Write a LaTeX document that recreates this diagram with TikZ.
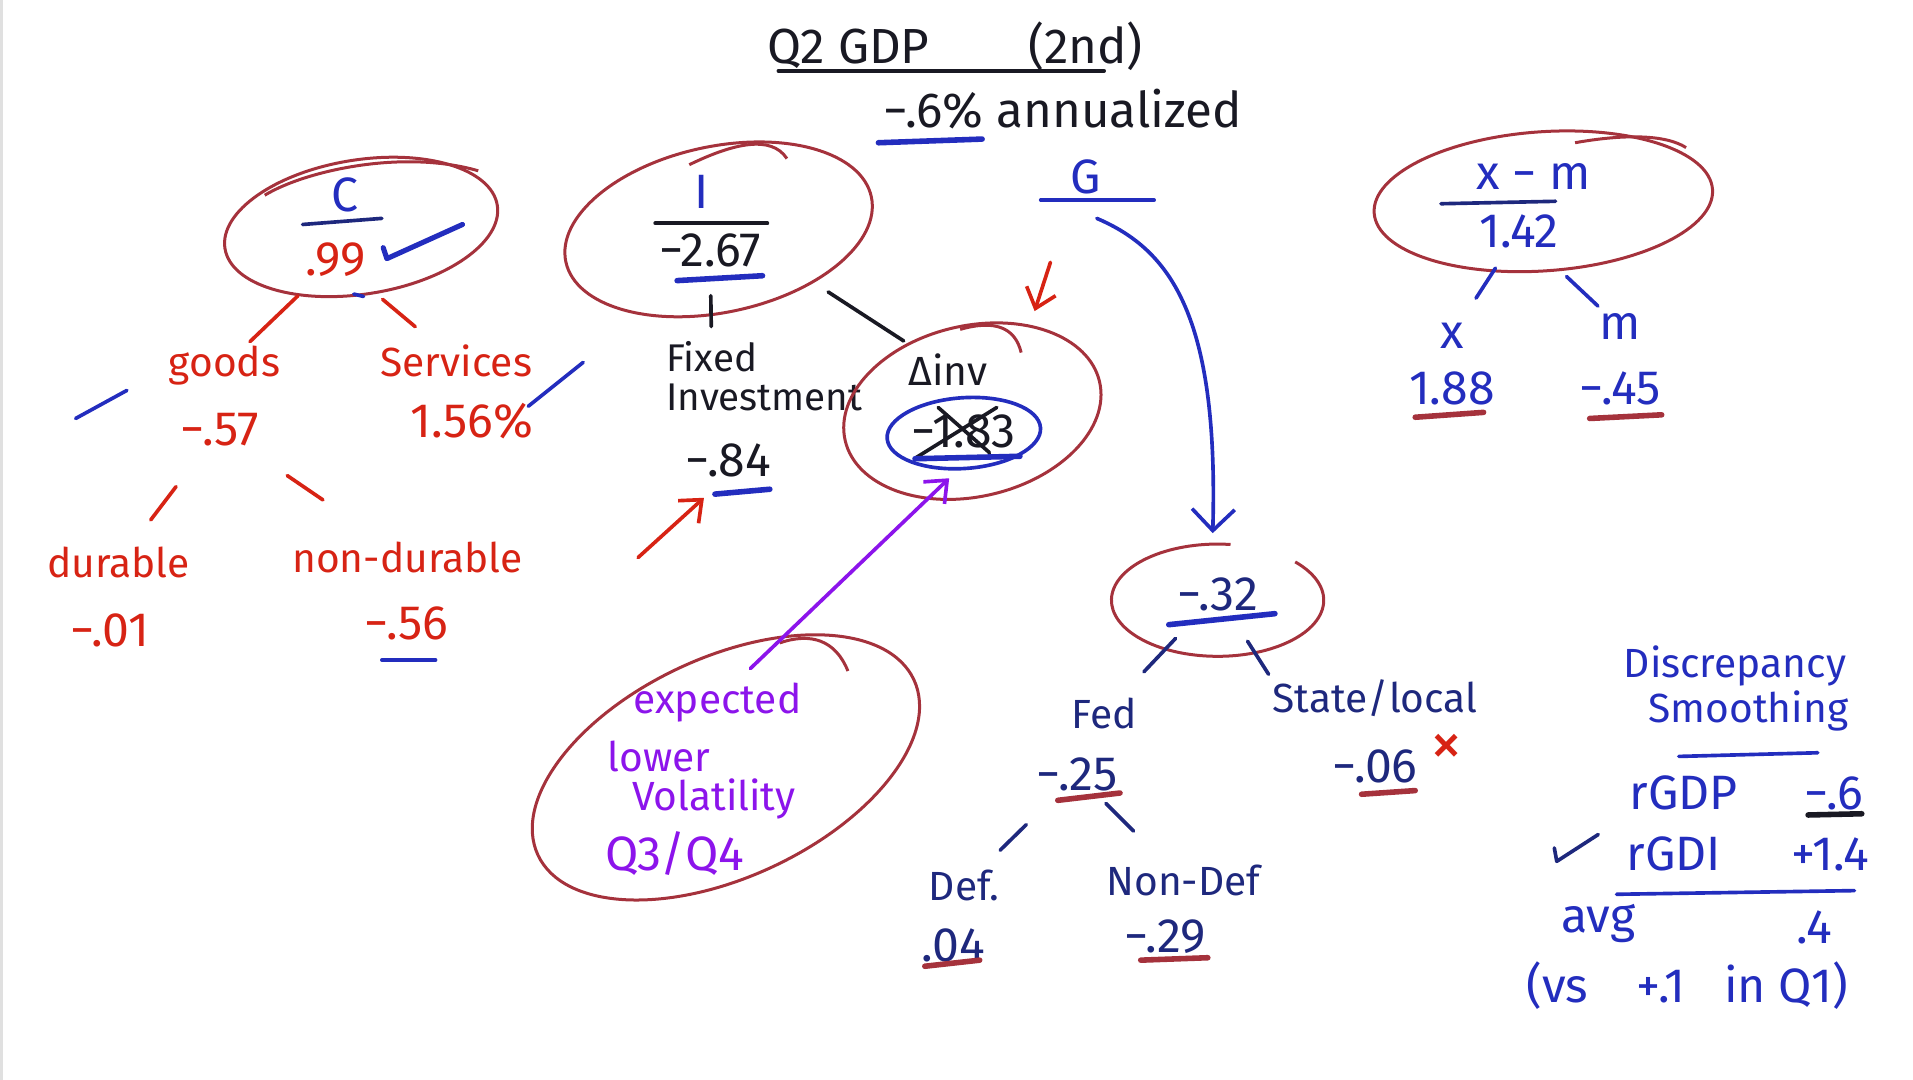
\documentclass[tikz,border=0pt]{standalone}
\usepackage{fontspec}
\setmainfont{Fira Sans}
\usetikzlibrary{arrows.meta,calc}
\definecolor{penred}{RGB}{215,35,20}
\definecolor{ringred}{RGB}{165,50,60}
\definecolor{penblue}{RGB}{35,45,190}
\definecolor{navy}{RGB}{30,40,125}
\definecolor{penink}{RGB}{25,25,35}
\definecolor{penpurple}{RGB}{140,20,235}
\newcommand{\handfont}{\fontsize{19}{21}\selectfont}
\newcommand{\numfont}{\fontsize{22.5}{25}\selectfont}
\newcommand{\titlefont}{\fontsize{23}{26}\selectfont}
\tikzset{
  txt/.style     = {font=\handfont, inner sep=1pt, text=penink},
  num/.style     = {txt, font=\numfont},
  redtxt/.style  = {txt, text=penred},
  bluetxt/.style = {txt, text=penblue},
  navytxt/.style = {txt, text=navy},
  purptxt/.style = {txt, text=penpurple},
  ring/.style    = {draw=ringred, line width=1.4pt},
  pen/.style     = {line width=1.7pt, line cap=round, line join=round},
  redpen/.style  = {pen, draw=penred},
  bluepen/.style = {pen, draw=penblue},
  navypen/.style = {pen, draw=navy},
  inkpen/.style  = {pen, draw=penink},
  purppen/.style = {pen, draw=penpurple},
  uline/.style   = {line width=2.6pt, line cap=round},
  tip/.style     = {-{Straight Barb[length=3mm,width=5mm]}},
}

\begin{document}
\begin{tikzpicture}[x=0.02cm, y=-0.02cm]
\useasboundingbox (0,0) rectangle (1568,885);
\draw[black!12, line width=2pt] (1,0) -- (1,885);

% heading
\node[txt, font=\titlefont] (title) at (783,38) {Q2 GDP\hspace{2em}(2nd)};
\draw[inkpen] (638,58) -- (905,58);
\node[txt, font=\titlefont] (gdp) at (871,89) {−.6\% annualized};
\draw[uline, draw=penblue] (720,117) -- (805,114);

% consumption
\node[bluetxt, font=\numfont] (c) at (283,160) {C};
\draw[navypen] (248,184) -- (313,179);
\node[num, text=penred] (n99) at (275,213) {.99};
\draw[ring, rotate around={9:(296,186)}] (296,186) ellipse [x radius=113, y radius=55];
\draw[ring] (217,160) .. controls (250,140) and (330,122) .. (392,140);
\draw[bluepen, line width=2.4pt] ($(n99.east)+(12,-10)$) -- ++(3,9) -- ++(62,-28);
\draw[bluepen] (290,241) -- (298,243);
\node[redtxt] (goods) at (184,300) {goods};
\node[num, text=penred] (n57) at (180,352) {−.57};
\node[redtxt] (services) at (374,296) {Services};
\node[num, text=penred] (n156) at (387,345) {1.56\%};
\node[redtxt] (durable) at (97,461) {durable};
\node[num, text=penred] (n01) at (90,517) {−.01};
\node[redtxt] (nondur) at (334,457) {non-durable};
\node[num, text=penred] (n56) at (333,511) {−.56};
\draw[bluepen] (313,541) -- (357,541);
\draw[redpen] ($(n99)!.34!(goods)$) -- ($(n99)!.77!(goods)$);
\draw[redpen] ($(n99)!.39!(services)$) -- ($(n99)!.66!(services)$);
\draw[redpen] ($(n57)!.43!(durable)$) -- ($(n57)!.68!(durable)$);
\draw[redpen] ($(n57)!.36!(nondur)$) -- ($(n57)!.55!(nondur)$);
\draw[bluepen] (62,343) -- (104,320);
\draw[bluepen] (433,333) -- (478,297);

% investment
\node[bluetxt, font=\numfont] (inv) at (575,157) {I};
\draw[inkpen] (537,183) -- (629,183);
\node[num] (n267) at (582,205) {−2.67};
\draw[uline, draw=penblue] (555,230) -- (625,226);
\draw[ring, rotate around={12:(589,188)}] (589,188) ellipse [x radius=128, y radius=68];
\draw[ring] (565,135) .. controls (600,118) and (632,110) .. (645,130);
\node[txt, anchor=west, font=\fontsize{18}{20}\selectfont] (fixed) at (544,292) {Fixed};
\node[txt, anchor=west, font=\fontsize{18}{20}\selectfont] (invest) at (544,326) {Investment};
\node[num] (n84) at (597,377) {−.84};
\draw[uline, draw=penblue] (586,405) -- (631,401);
\draw[inkpen] ($(n267)!.43!(fixed)$) -- ($(n267)!.72!(fixed)$);
\draw[redpen, tip] ([shift={(-74,80)}]n84.center) -- ([shift={(-20,31)}]n84.center);

% inventories
\node[txt] (dinv) at (777,303) {Δinv};
\node[num] (d183) at (790,354) {−1.83};
\draw[bluepen, rotate around={4:(790,355)}] (790,355) ellipse [x radius=63, y radius=29];
\draw[inkpen] (769,334) -- (811,371);
\draw[inkpen] (817,334) -- (751,375);
\draw[uline, draw=penblue] (750,376) -- (836,374);
\draw[ring, rotate around={13:(797,337)}] (797,337) ellipse [x radius=107, y radius=70];
\draw[ring] (787,270) .. controls (815,262) and (832,268) .. (837,289);
\draw[inkpen] ($(n267.east)!.35!(dinv)$) -- ($(n267.east)!.76!(dinv)$);
\draw[redpen, tip] ([shift={(84,-88)}]dinv.center) -- ++(-13,40);

% outlook
\node[purptxt] (expd) at (588,576) {expected};
\node[purptxt] (lower) at (540,620) {lower};
\node[purptxt] (volat) at (585,655) {Volatility};
\node[purptxt, font=\numfont] (q34) at (553,700) {Q3/Q4};
\draw[ring, rotate around={25:(595,629)}] (595,629) ellipse [x radius=170, y radius=90];
\draw[ring] (639,527) .. controls (665,518) and (685,525) .. (695,550);
\draw[purppen, tip] ([shift={(27,-28)}]expd.center) -- ([shift={(-12,38)}]d183.center);

% government
\node[bluetxt, font=\numfont] (gnode) at (890,145) {G};
\draw[bluepen] (853,164) -- (946,164);
\node[num, text=navy] (n32) at (998,487) {−.32};
\draw[uline, draw=penblue] (958,512) -- (1045,503);
\draw[ring] (1008.6,446.3) arc [start angle=-83, end angle=-403, x radius=87, y radius=46];
\draw[bluepen, -{Straight Barb[length=3.5mm,width=7mm]}] ([shift={(9,34)}]gnode.center)
  .. controls +(61,26) and +(5,-177) .. ([shift={(-4,-50)}]n32.center);
\node[navytxt] (fed) at (905,585) {Fed};
\node[num, text=navy] (n25) at (883,635) {−.25};
\draw[uline, draw=ringred] (867,656) -- (918,650);
\node[navytxt] (state) at (1127,572) {State/local};
\node[num, text=navy] (n06) at (1127,628) {−.06};
\draw[uline, draw=ringred] (1116,651) -- (1160,648);
\node[redtxt, font=\fontsize{30}{32}\selectfont] (xmark) at (1186,615) {×};
\node[navytxt] (def) at (790,726) {Def.};
\node[num, text=navy] (n04) at (781,775) {.04};
\draw[uline, draw=ringred] (758,792) -- (803,787);
\node[navytxt] (nondef) at (970,722) {Non-Def};
\node[num, text=navy] (n29) at (955,768) {−.29};
\draw[uline, draw=ringred] (935,787) -- (990,785);
\draw[navypen] ($(n32)!.37!(fed)$) -- ($(n32)!.65!(fed)$);
\draw[navypen] ($(n32)!.57!(state.north west)$) -- ($(n32)!.97!(state.north west)$);
\draw[navypen] ($(n25)!.45!(def)$) -- ($(n25)!.68!(def)$);
\draw[navypen] ($(n25)!.27!(nondef)$) -- ($(n25)!.53!(nondef)$);

% net exports
\node[bluetxt, font=\numfont] (xm) at (1257,145) {x − m};
\draw[navypen] (1181,167) -- (1275,165);
\node[num, text=penblue] (n142) at (1245,190) {1.42};
\draw[ring, rotate around={4:(1265,165)}] (1265,165) ellipse [x radius=139, y radius=57];
\draw[ring] (1291,117) .. controls (1330,110) and (1365,110) .. (1382,121);
\node[bluetxt, font=\numfont] (xleaf) at (1190,275) {x};
\node[num, text=penblue] (n188) at (1190,318) {1.88};
\draw[uline, draw=ringred] (1160,342) -- (1216,338);
\node[bluetxt, font=\numfont] (mleaf) at (1328,268) {m};
\node[num, text=penblue] (n45) at (1328,318) {−.45};
\draw[uline, draw=ringred] (1303,343) -- (1362,340);
\draw[bluepen] ($(n142)!.35!(xleaf)$) -- ($(n142)!.64!(xleaf)$);
\draw[bluepen] ($(n142)!.47!(mleaf)$) -- ($(n142)!.78!(mleaf)$);

% discrepancy
\node[bluetxt] (disc) at (1422,546) {Discrepancy};
\node[bluetxt] (smooth) at (1433,583) {Smoothing};
\draw[bluepen] (1376,620) -- (1490,617);
\node[num, text=penblue] (rgdp) at (1380,650) {rGDP};
\node[num, text=penblue] (vgdp) at (1503,650) {−.6};
\draw[uline, draw=penink] (1482,668) -- (1526,667);
\draw[navypen] (1274,695) -- (1276,706) -- (1310,684);
\node[num, text=penblue] (rgdi) at (1372,700) {rGDI};
\node[num, text=penblue] (vgdi) at (1500,700) {+1.4};
\draw[bluepen] (1325,733) -- (1520,730);
\node[num, text=penblue] (avg) at (1310,757) {avg};
\node[num, text=penblue] (vavg) at (1487,760) {.4};
\node[num, text=penblue] (vs) at (1383,808) {(vs\hspace{1em}+.1\hspace{0.8em}in Q1)};
\end{tikzpicture}
\end{document}
